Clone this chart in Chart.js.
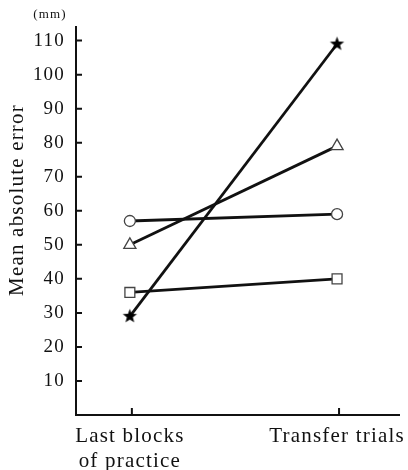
<!DOCTYPE html>
<html>
<head>
<meta charset="utf-8">
<script src="https://cdn.jsdelivr.net/npm/chart.js@4"></script>
<style>
  html, body { margin: 0; padding: 0; background: #ffffff; }
  #wrap { position: relative; width: 408px; height: 470px; }
</style>
</head>
<body>
<div id="wrap"><canvas id="errChart" width="408" height="470"></canvas></div>
<script>
// Mean absolute error, last practice blocks vs transfer trials.
const categories = [['Last blocks', 'of practice'], ['Transfer trials']];
const yTicks = [10, 20, 30, 40, 50, 60, 70, 80, 90, 100, 110];

const starGroup = [29, 109];
const triangleGroup = [50, 79];
const circleGroup = [57, 59];
const squareGroup = [36, 40];

const serif = '"Liberation Serif", "DejaVu Serif", serif';

// filled five-point star marker
function makeStar(r) {
  const c = document.createElement('canvas');
  c.width = c.height = r * 2 + 2;
  const g = c.getContext('2d');
  g.beginPath();
  for (let i = 0; i < 10; i++) {
    const rad = i % 2 === 0 ? r : r * 0.42;
    const a = -Math.PI / 2 + i * Math.PI / 5;
    g.lineTo(r + 1 + rad * Math.cos(a), r + 1 + rad * Math.sin(a));
  }
  g.closePath();
  g.fillStyle = '#000';
  g.fill();
  return c;
}

const toPoints = vals => vals.map((v, i) => ({ x: i, y: v }));

function series(vals, style, size) {
  return {
    data: toPoints(vals),
    borderColor: '#111',
    borderWidth: 2.8,
    pointStyle: style,
    pointRadius: size,
    pointBorderColor: '#444',
    pointBorderWidth: 1.3,
    pointBackgroundColor: '#fff',
    tension: 0
  };
}

// inward ticks, unit label and rotated y title
const decorations = {
  id: 'decorations',
  beforeDraw(chart) {
    chart.ctx.letterSpacing = '1.2px';
  },
  afterDraw(chart) {
    const ctx = chart.ctx;
    const xs = chart.scales.x, ys = chart.scales.y;
    const area = chart.chartArea;
    ctx.save();
    ctx.strokeStyle = '#111';
    ctx.lineWidth = 2;
    ctx.beginPath();
    yTicks.forEach(v => {
      const py = ys.getPixelForValue(v);
      ctx.moveTo(area.left, py);
      ctx.lineTo(area.left + 6, py);
    });
    [0, 1].forEach(v => {
      const px = xs.getPixelForValue(v);
      ctx.moveTo(px + 2, area.bottom);
      ctx.lineTo(px + 2, area.bottom - 7);
    });
    ctx.stroke();

    ctx.fillStyle = '#111';
    ctx.font = '13px ' + serif;
    ctx.textAlign = 'center';
    ctx.textBaseline = 'middle';
    ctx.fillText('(mm)', 50, 15);

    ctx.translate(17, 200);
    ctx.rotate(-Math.PI / 2);
    ctx.font = '21px ' + serif;
    ctx.fillText('Mean absolute error', 0, 0);
    ctx.restore();
  }
};

new Chart(document.getElementById('errChart').getContext('2d'), {
  type: 'line',
  data: {
    datasets: [
      series(circleGroup, 'circle', 5.5),
      series(triangleGroup, 'triangle', 7),
      series(squareGroup, 'rect', 7),
      series(starGroup, makeStar(7.5), 7.5)
    ]
  },
  options: {
    responsive: false,
    animation: false,
    layout: { padding: { top: 27, right: 0, left: 0, bottom: 0 } },
    plugins: { legend: { display: false }, tooltip: { enabled: false } },
    scales: {
      x: {
        type: 'linear',
        min: -0.26,
        max: 1.3,
        afterBuildTicks: s => { s.ticks = [{ value: 0 }, { value: 1 }]; },
        afterFit: s => { s.height = 55; },
        grid: { display: false, drawTicks: false },
        border: { display: true, color: '#111', width: 2 },
        ticks: {
          color: '#111',
          padding: 9,
          font: { family: serif, size: 21, lineHeight: 1.2 },
          callback: v => categories[v] || ''
        }
      },
      y: {
        min: 0,
        max: 114,
        afterBuildTicks: s => { s.ticks = yTicks.map(v => ({ value: v })); },
        afterFit: s => { s.width = 76; },
        grid: { display: false, drawTicks: false },
        border: { display: true, color: '#111', width: 2 },
        ticks: {
          color: '#111',
          padding: 11,
          font: { family: serif, size: 19 }
        }
      }
    }
  },
  plugins: [decorations]
});
</script>
</body>
</html>
